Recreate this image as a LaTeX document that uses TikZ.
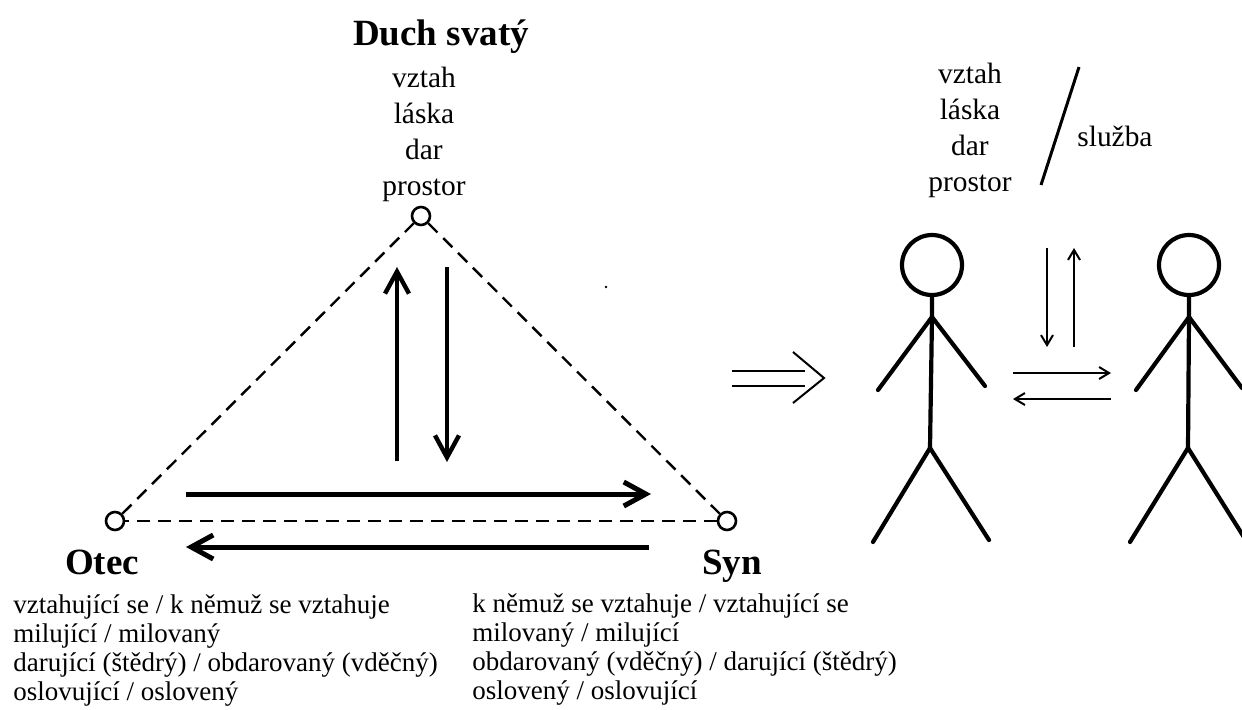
\documentclass[tikz,border=0pt]{standalone}
\usepackage{fontspec}
\setmainfont{Liberation Serif}
\usepackage{tikz}
\usetikzlibrary{positioning,arrows.meta}

\begin{document}
\begin{tikzpicture}[x=0.5pt,y=-0.5pt,
	vertex/.style={circle,draw,line width=1.3pt,minimum size=9pt,inner sep=0pt},
	person/.style={font=\fontsize{18.5}{20}\selectfont\bfseries,inner sep=0pt,anchor=base},
	gift/.style={font=\fontsize{14.7}{18}\selectfont,align=center,inner sep=0pt,anchor=north},
	role/.style={font=\fontsize{13.5}{14.5}\selectfont,align=left,inner sep=0pt,anchor=north west},
	relation/.style={dash pattern=on 6.5pt off 4pt,line width=1.2pt},
	bigarrow/.style={-{Straight Barb[length=11pt,width=12pt]},line width=2.5pt},
	smallarrow/.style={-{Straight Barb[length=5pt,width=6pt]},line width=1pt},
	limb/.style={line width=2.1pt,line cap=round,line join=round}]

	\useasboundingbox (0,0) rectangle (1242,709);

	% The triangle
	\node [vertex] at (421,216) (hs) {};
	\node [vertex] at (115,521) (ot) {};
	\node [vertex] at (727,521) (sy) {};

	\node [person] at (441,45) (hsname) {Duch svatý};
	\node [gift] at (424,67) (hsgift) {vztah\\láska\\dar\\prostor};
	\node [person] at (102,574) (otname) {Otec};
	\node [person] at (732,574) (syname) {Syn};

	\node [role] at (13,594) (otrole) {vztahující se / k němuž se vztahuje\\milující / milovaný\\darující (štědrý) / obdarovaný (vděčný)\\oslovující / oslovený};
	\node [role] at (472,593) (syrole) {k němuž se vztahuje / vztahující se\\milovaný / milující\\obdarovaný (vděčný) / darující (štědrý)\\oslovený / oslovující};

	% Triangle edges
	\path[relation]
	(ot) edge (hs)
	(hs) edge (sy)
	(sy) edge (ot);

	% Arrows inside
	\coordinate (up1) at (397,461);
	\coordinate (up2) at (397,267);
	\coordinate (dn1) at (447,267);
	\coordinate (dn2) at (447,462);
	\coordinate (rt1) at (186,494);
	\coordinate (rt2) at (651,494);
	\coordinate (lt1) at (649,547);
	\coordinate (lt2) at (186,547);
	\draw[bigarrow,line width=2.2pt] (up1) -- (up2);
	\draw[bigarrow,line width=2.2pt] (dn1) -- (dn2);
	\draw[bigarrow] (rt1) -- (rt2);
	\draw[bigarrow] (lt1) -- (lt2);
	\fill (606,287) circle (0.7pt);

	% Implies
	\draw[line width=1pt] (732,371) -- (805,371) (732,386) -- (805,386);
	\draw[line width=1pt] (793,352) -- (824,378) -- (793,403);

	% Two people
	\draw[limb] (932,265) circle (15pt);
	\draw[limb] (932,295) -- (932,317) -- (930,448);
	\draw[limb] (878,390) -- (932,317) -- (985,386);
	\draw[limb] (873,542) -- (930,448) -- (989,540);

	\draw[limb] (1189,265) circle (15pt);
	\draw[limb] (1189,295) -- (1189,317) -- (1188,448);
	\draw[limb] (1136,390) -- (1189,317) -- (1242,388);
	\draw[limb] (1130,542) -- (1188,448) -- (1247,542);

	\node [gift] at (970,63) (pgift) {vztah\\láska\\dar\\prostor};
	\coordinate (sl1) at (1079,67);
	\coordinate (sl2) at (1041,185);
	\draw[line width=1.5pt] (sl1) -- (sl2);
	\node [font=\fontsize{14.7}{18}\selectfont,inner sep=0pt,anchor=base west] at (1077,146) (serv) {služba};

	% Exchange arrows
	\coordinate (pd1) at (1047,248);
	\coordinate (pd2) at (1047,347);
	\coordinate (pu1) at (1074,347);
	\coordinate (pu2) at (1074,248);
	\coordinate (pr1) at (1013,373);
	\coordinate (pr2) at (1111,373);
	\coordinate (pl1) at (1111,399);
	\coordinate (pl2) at (1013,399);
	\draw[smallarrow] (pd1) -- (pd2);
	\draw[smallarrow] (pu1) -- (pu2);
	\draw[smallarrow] (pr1) -- (pr2);
	\draw[smallarrow] (pl1) -- (pl2);

\end{tikzpicture}
\end{document}
